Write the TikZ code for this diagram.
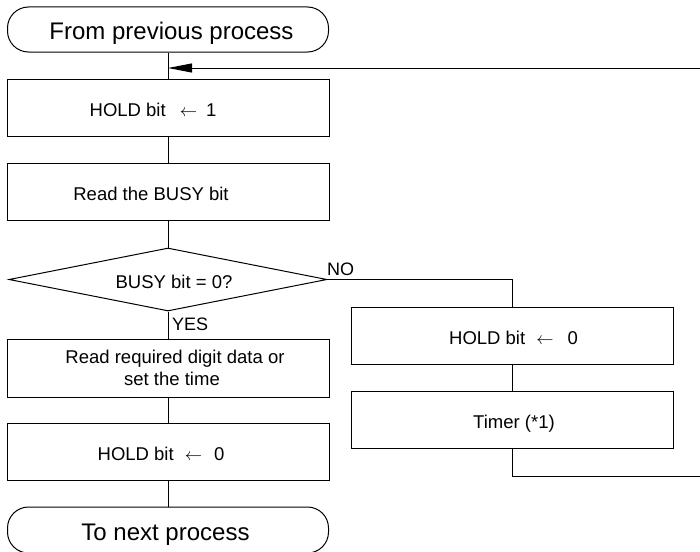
\documentclass[tikz,border=0pt]{standalone}
\usepackage{fontspec}
\setmainfont{Liberation Sans}
\usetikzlibrary{shapes.geometric,arrows.meta}
\tikzset{
  conn/.style={draw=black,line width=1pt},
  procbox/.style={draw=black,line width=1pt,rectangle,minimum width=322pt,minimum height=57pt,inner sep=0pt,
    font=\fontsize{18.5}{21.5}\selectfont,text height=18pt,text depth=0pt},
  termbox/.style={draw=black,line width=1pt,rectangle,rounded corners=21pt,minimum width=321pt,minimum height=45pt,inner sep=0pt,
    font=\fontsize{24}{28}\selectfont,text height=21pt,text depth=0pt},
  decbox/.style={draw=black,line width=1pt,diamond,aspect=5,minimum width=318pt,minimum height=63pt,inner sep=0pt,
    font=\fontsize{18.5}{21.5}\selectfont,text height=17pt,text depth=0pt},
  lbl/.style={inner sep=0pt,font=\fontsize{18}{21}\selectfont},
}
\begin{document}
\begin{tikzpicture}[x=1pt,y=-1pt]
\useasboundingbox (0,0) rectangle (700,551);
% left column
\node[termbox] (from) at (168,29.5) {\hspace*{7pt}From previous process};
\node[procbox] (hold1) at (168,107.5) {HOLD bit\hspace{14pt}$\leftarrow$\hspace{9pt}1\hspace*{30pt}};
\node[procbox] (busy) at (168,191.5) {Read the BUSY bit\hspace*{34pt}};
\node[decbox] (dec) at (168,279.5) {\hspace*{12pt}BUSY bit = 0?};
\node[procbox,align=center,minimum height=58pt,text height=, text depth=] (read) at (168,368)
  {\hspace*{14pt}Read required digit data or\\\hspace*{8pt}set the time};
\node[procbox] (hold0) at (168,451.5) {HOLD bit\hspace{11pt}$\leftarrow$\hspace{12pt}0\hspace*{14pt}};
\node[termbox,minimum height=46pt] (to) at (168,530) {To next process\hspace*{5pt}};
% right column
\node[procbox] (rhold) at (512,335.5) {\hspace*{3pt}HOLD bit\hspace{11pt}$\leftarrow$\hspace{14pt}0};
\node[procbox] (timer) at (512,419.5) {\hspace*{4pt}Timer (*1)};
% labels
\node[lbl,anchor=base west] (no) at (327,275) {NO};
\node[lbl,anchor=base west] (yes) at (172,330) {YES};
% coordinates for the loop leaving the picture
\coordinate (loopout) at (700,476);
\coordinate (loopin) at (700,68);
\coordinate (join) at (168,68);
% connectors
\draw[conn] (from.south) -- (hold1.north);
\draw[conn] (hold1.south) -- (busy.north);
\draw[conn] (busy.south) -- (dec.north);
\draw[conn] (dec.south) -- (read.north);
\draw[conn] (read.south) -- (hold0.north);
\draw[conn] (hold0.south) -- (to.north);
\draw[conn] (dec.east) -| (rhold.north);
\draw[conn] (rhold.south) -- (timer.north);
\draw[conn] (timer.south) |- (loopout);
\draw[conn,-{Triangle[length=24pt,width=9pt]}] (loopin) -- (join);
\end{tikzpicture}
\end{document}
